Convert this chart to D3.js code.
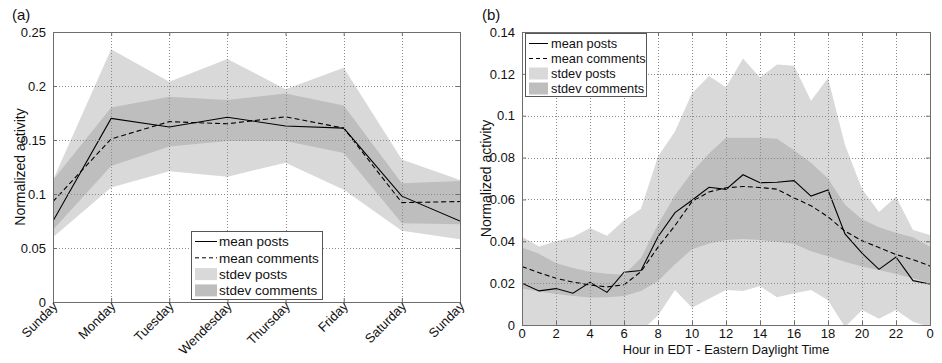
<!DOCTYPE html>
<html>
<head>
<meta charset="utf-8">
<script src="https://cdn.jsdelivr.net/npm/d3@7"></script>
<style>
  body { margin: 0; background: #fff; }
  svg { display: block; font-family: "Liberation Sans", Arial, Helvetica, sans-serif; }
</style>
</head>
<body>
<svg id="chart" width="942" height="363"></svg>
<script>
// ---- panel (a): day of week ----
var days = ["Sunday", "Monday", "Tuesday", "Wendesday", "Thursday", "Friday", "Saturday", "Sunday"];
var postsMeanWeek = [0.075, 0.170, 0.162, 0.171, 0.163, 0.161, 0.098, 0.075];
var commentsMeanWeek = [0.093, 0.151, 0.167, 0.165, 0.1715, 0.161, 0.092, 0.093];
var postsStdLoWeek = [0.060, 0.106, 0.121, 0.116, 0.129, 0.104, 0.066, 0.058];
var postsStdHiWeek = [0.113, 0.234, 0.204, 0.225, 0.197, 0.217, 0.132, 0.113];
var commentsStdLoWeek = [0.067, 0.126, 0.144, 0.149, 0.149, 0.138, 0.073, 0.072];
var commentsStdHiWeek = [0.113, 0.180, 0.190, 0.187, 0.193, 0.182, 0.110, 0.112];
var yTicksWeek = [0, 0.05, 0.1, 0.15, 0.2, 0.25];

// ---- panel (b): hour of day ----
var hours = d3.range(0, 25);
var postsMeanHour = [0.0200, 0.0163, 0.0174, 0.0152, 0.0204, 0.0156, 0.0252, 0.0260, 0.0422, 0.0537, 0.0596, 0.0658, 0.0648, 0.0718, 0.0680, 0.0682, 0.0690, 0.0616, 0.0645, 0.0435, 0.0343, 0.0266, 0.0325, 0.0212, 0.0196];
var commentsMeanHour = [0.0279, 0.0250, 0.0223, 0.0205, 0.0191, 0.0182, 0.0192, 0.0255, 0.0372, 0.0475, 0.0590, 0.0636, 0.0655, 0.0662, 0.0657, 0.0649, 0.0607, 0.0570, 0.0517, 0.0448, 0.0403, 0.0370, 0.0337, 0.0312, 0.0282];
var postsStdLoHour = [-0.002, -0.005, -0.005, -0.011, -0.005, -0.011, -0.002, -0.003, 0.0045, 0.0167, 0.0082, 0.0125, 0.0167, 0.0162, 0.0186, 0.0132, 0.0152, 0.0167, 0.0118, -0.001, 0.0072, 0.0030, 0.0072, 0.0016, -0.001];
var postsStdHiHour = [0.0422, 0.0375, 0.0400, 0.0420, 0.0463, 0.0426, 0.0500, 0.0555, 0.0805, 0.0924, 0.1107, 0.1190, 0.1136, 0.1273, 0.1183, 0.1245, 0.1239, 0.1072, 0.1180, 0.0860, 0.0650, 0.0540, 0.0613, 0.0454, 0.0430];
var commentsStdLoHour = [0.0175, 0.0160, 0.0148, 0.0138, 0.0131, 0.0132, 0.0139, 0.0162, 0.0210, 0.0290, 0.0362, 0.0390, 0.0406, 0.0411, 0.0406, 0.0398, 0.0388, 0.0352, 0.0328, 0.0302, 0.0279, 0.0263, 0.0244, 0.0223, 0.0200];
var commentsStdHiHour = [0.0370, 0.0340, 0.0295, 0.0272, 0.0255, 0.0245, 0.0240, 0.0320, 0.0480, 0.0620, 0.0730, 0.0820, 0.0895, 0.0895, 0.0895, 0.0890, 0.0835, 0.0775, 0.0700, 0.0575, 0.0505, 0.0467, 0.0441, 0.0419, 0.0374];
var xTicksHour = d3.range(0, 25, 2);
var yTicksHour = [0, 0.02, 0.04, 0.06, 0.08, 0.1, 0.12, 0.14];

var legendLabels = ["mean posts", "mean comments", "stdev posts", "stdev comments"];

var LIGHT = "#d9d9d9", DARK = "#bebebe", AXIS = "#6e6e6e", GRID = "#8a8a8a";

var svg = d3.select("#chart");

function drawPanel(opts) {
    var g = svg.append("g"),
        x = d3.scaleLinear().domain(opts.xDomain).range([opts.left, opts.right]),
        y = d3.scaleLinear().domain(opts.yDomain).range([opts.bottom, opts.top]),
        idx = d3.range(opts.n),
        clipId = "clip-" + opts.name;

    g.append("clipPath").attr("id", clipId)
        .append("rect")
        .attr("x", opts.left).attr("y", opts.top)
        .attr("width", opts.right - opts.left).attr("height", opts.bottom - opts.top);

    var plot = g.append("g").attr("clip-path", "url(#" + clipId + ")");

    var band = function (lo, hi) {
        return d3.area()
            .x(function (i) { return x(opts.xs[i]); })
            .y0(function (i) { return y(lo[i]); })
            .y1(function (i) { return y(hi[i]); })(idx);
    };
    plot.append("path").attr("d", band(opts.postsLo, opts.postsHi)).attr("fill", LIGHT);
    plot.append("path").attr("d", band(opts.commentsLo, opts.commentsHi)).attr("fill", DARK);

    // grid (dotted, drawn above the bands like matlab)
    var grid = g.append("g").attr("stroke", GRID).attr("stroke-width", 1)
        .attr("stroke-dasharray", "1,2").attr("shape-rendering", "crispEdges");
    grid.selectAll(".xg").data(opts.xTicks).enter().append("line")
        .attr("x1", function (d) { return Math.round(x(d)) + 0.5; })
        .attr("x2", function (d) { return Math.round(x(d)) + 0.5; })
        .attr("y1", opts.top).attr("y2", opts.bottom);
    grid.selectAll(".yg").data(opts.yTicks).enter().append("line")
        .attr("y1", function (d) { return Math.round(y(d)) + 0.5; })
        .attr("y2", function (d) { return Math.round(y(d)) + 0.5; })
        .attr("x1", opts.left).attr("x2", opts.right);

    var line = function (vals) {
        return d3.line()
            .x(function (i) { return x(opts.xs[i]); })
            .y(function (i) { return y(vals[i]); })(idx);
    };
    plot.append("path").attr("d", line(opts.postsMean))
        .attr("fill", "none").attr("stroke", "#000").attr("stroke-width", 1.1);
    plot.append("path").attr("d", line(opts.commentsMean))
        .attr("fill", "none").attr("stroke", "#000").attr("stroke-width", 1.1)
        .attr("stroke-dasharray", "5,3");

    // axes box, ticks pointing inward on all four sides
    var tickLen = 4;
    var axLeft = d3.axisLeft(y).tickValues(opts.yTicks).tickSize(-tickLen).tickPadding(tickLen + 3)
        .tickFormat(function (d) { return d3.format("~g")(d); });
    var axRight = d3.axisRight(y).tickValues(opts.yTicks).tickSize(-tickLen).tickFormat("");
    var axBottom = d3.axisBottom(x).tickValues(opts.xTicks).tickSize(-tickLen).tickFormat("");
    var axTop = d3.axisTop(x).tickValues(opts.xTicks).tickSize(-tickLen).tickFormat("");

    [[axLeft, "translate(" + opts.left + ",0)"], [axRight, "translate(" + opts.right + ",0)"],
     [axBottom, "translate(0," + opts.bottom + ")"], [axTop, "translate(0," + opts.top + ")"]]
        .forEach(function (a) {
            var s = g.append("g").attr("transform", a[1]).call(a[0]);
            s.select(".domain").remove();
            s.selectAll("line").attr("stroke", AXIS);
            s.selectAll("text").attr("fill", "#111").style("font-size", "13px")
                .style("font-family", "'Liberation Sans', Arial, sans-serif");
        });
    g.append("rect")
        .attr("x", opts.left + 0.5).attr("y", opts.top + 0.5)
        .attr("width", opts.right - opts.left).attr("height", opts.bottom - opts.top)
        .attr("fill", "none").attr("stroke", AXIS).attr("stroke-width", 1);

    // x tick labels
    opts.xLabels(g, x);

    // y label
    g.append("text")
        .attr("transform", "translate(" + opts.yLabelX + "," + ((opts.top + opts.bottom) / 2) + ") rotate(-90)")
        .attr("text-anchor", "middle").attr("dy", "0.35em")
        .style("font-size", "14px").attr("fill", "#111")
        .text("Normalized activity");

    // panel letter
    g.append("text").attr("x", opts.letterX).attr("y", 20)
        .style("font-size", "15px").attr("fill", "#111").text(opts.letter);

    // legend
    var L = opts.legend,
        lg = g.append("g");
    lg.append("rect").attr("x", L.x + 0.5).attr("y", L.y + 0.5)
        .attr("width", L.w).attr("height", L.h)
        .attr("fill", "#fff").attr("stroke", "#555");
    legendLabels.forEach(function (lab, i) {
        var cy = L.y + L.first + i * L.step;
        if (i === 0 || i === 1) {
            lg.append("line").attr("x1", L.sx0).attr("x2", L.sx1)
                .attr("y1", cy).attr("y2", cy)
                .attr("stroke", "#000").attr("stroke-width", 1)
                .attr("stroke-dasharray", i === 1 ? "4,3" : null);
        } else {
            lg.append("rect").attr("x", L.sx0).attr("y", cy - L.ph / 2)
                .attr("width", L.sx1 - L.sx0).attr("height", L.ph)
                .attr("fill", i === 2 ? LIGHT : DARK);
        }
        lg.append("text").attr("x", L.tx).attr("y", cy).attr("dy", "0.36em")
            .style("font-size", L.fs).attr("fill", "#111").text(lab);
    });
}

drawPanel({
    name: "week", letter: "(a)", letterX: 12,
    n: days.length, xs: d3.range(days.length),
    xDomain: [0, 7], yDomain: [0, 0.25],
    left: 53, right: 460, top: 32, bottom: 302,
    xTicks: d3.range(0, 8), yTicks: yTicksWeek,
    postsMean: postsMeanWeek, commentsMean: commentsMeanWeek,
    postsLo: postsStdLoWeek, postsHi: postsStdHiWeek,
    commentsLo: commentsStdLoWeek, commentsHi: commentsStdHiWeek,
    yLabelX: 20,
    xLabels: function (g, x) {
        g.selectAll(".daylab").data(days).enter().append("text")
            .attr("transform", function (d, i) { return "translate(" + (x(i) + 2) + ",304) rotate(-45)"; })
            .attr("text-anchor", "end").attr("dy", "0.35em")
            .style("font-size", "13px").attr("fill", "#111")
            .text(function (d) { return d; });
    },
    legend: { x: 191, y: 231, w: 131, h: 68, first: 10.5, step: 16.3, sx0: 195, sx1: 217, tx: 219, ph: 12, fs: "13.5px" }
});

drawPanel({
    name: "hour", letter: "(b)", letterX: 482,
    n: hours.length, xs: hours,
    xDomain: [0, 24], yDomain: [0, 0.14],
    left: 522, right: 930, top: 32, bottom: 325,
    xTicks: xTicksHour, yTicks: yTicksHour,
    postsMean: postsMeanHour, commentsMean: commentsMeanHour,
    postsLo: postsStdLoHour, postsHi: postsStdHiHour,
    commentsLo: commentsStdLoHour, commentsHi: commentsStdHiHour,
    yLabelX: 486,
    xLabels: function (g, x) {
        g.selectAll(".hourlab").data(xTicksHour).enter().append("text")
            .attr("x", function (d) { return x(d); }).attr("y", 333.5).attr("dy", "0.35em")
            .attr("text-anchor", "middle")
            .style("font-size", "13px").attr("fill", "#111")
            .text(function (d) { return d % 24; });
        g.append("text").attr("x", (x(0) + x(24)) / 2).attr("y", 349.5).attr("dy", "0.35em")
            .attr("text-anchor", "middle")
            .style("font-size", "12.8px").attr("fill", "#111")
            .text("Hour in EDT - Eastern Daylight Time");
    },
    legend: { x: 525, y: 33, w: 121, h: 63, first: 10.5, step: 15, sx0: 529, sx1: 548, tx: 551, ph: 12, fs: "12.8px" }
});
</script>
</body>
</html>
